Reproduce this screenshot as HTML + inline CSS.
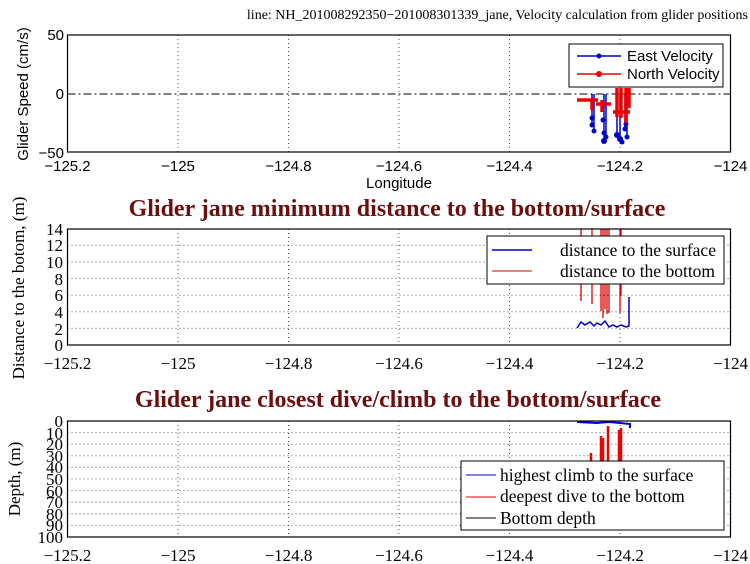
<!DOCTYPE html>
<html><head><style>
body{margin:0;background:#fff;}
svg{display:block;}
.t{font-family:"Liberation Serif",serif;}
.a{font-family:"Liberation Sans",sans-serif;}
</style></head><body>
<svg width="750" height="564" viewBox="0 0 750 564" xmlns="http://www.w3.org/2000/svg">
<!-- Panel 1 -->
<text x="748" y="19" class="t" font-size="14" text-anchor="end">line: NH_201008292350−201008301339_jane, Velocity calculation from glider positions</text>
<g stroke="#555" stroke-dasharray="1,3" stroke-width="1">
<line x1="178" y1="35" x2="178" y2="152"/><line x1="288.5" y1="35" x2="288.5" y2="152"/><line x1="399" y1="35" x2="399" y2="152"/><line x1="509.5" y1="35" x2="509.5" y2="152"/><line x1="620" y1="35" x2="620" y2="152"/>
</g>
<line x1="67.5" y1="94" x2="730.5" y2="94" stroke="#000" stroke-dasharray="8,3,2,3"/>
<g stroke="#00c" stroke-width="1.5" fill="none">
<path d="M592 94V125M594 94V131M604 94V141M606 94V137M617 94V135M620 94V139M625 94V129M627 94V137"/>
</g>
<g fill="#00c">
<circle cx="592" cy="118" r="2.5"/><circle cx="592" cy="125" r="2.5"/><circle cx="594" cy="131" r="2.5"/><circle cx="604" cy="141" r="3"/><circle cx="604" cy="133" r="2.5"/><circle cx="606" cy="137" r="2.5"/><circle cx="617" cy="135" r="3"/><circle cx="620" cy="139" r="3"/><circle cx="625" cy="129" r="2.5"/><circle cx="627" cy="137" r="2.5"/><circle cx="622" cy="142" r="2.5"/><circle cx="626" cy="124" r="2.5"/><circle cx="603" cy="120" r="2.5"/>
</g>
<g stroke="#e00" stroke-width="3.5" fill="none">
<path d="M577 100H598M596 104H611M592 100V110M602 100V112M613 112H630M617 88V117M621 88V118M626 88V123M629 88V108"/>
</g>
<rect x="67.5" y="35" width="663" height="117" fill="none" stroke="#000" stroke-width="1.2"/>
<g class="a" font-size="15" text-anchor="end"><text x="64" y="40">50</text><text x="64" y="99">0</text><text x="64" y="158">−50</text></g>
<g class="a" font-size="15" text-anchor="middle"><text x="67.5" y="171">−125.2</text><text x="178" y="171">−125</text><text x="288.5" y="171">−124.8</text><text x="399" y="171">−124.6</text><text x="509.5" y="171">−124.4</text><text x="620" y="171">−124.2</text><text x="730.5" y="171">−124</text>
<text x="399" y="188">Longitude</text></g>
<text class="a" font-size="15" text-anchor="middle" transform="translate(28,94) rotate(-90)">Glider Speed (cm/s)</text>
<rect x="569" y="44" width="154" height="43" fill="#fff" stroke="#000"/>
<line x1="577" y1="56" x2="621" y2="56" stroke="#00c" stroke-width="1.5"/><circle cx="599" cy="56" r="2.5" fill="#00c"/>
<line x1="577" y1="74" x2="621" y2="74" stroke="#e00" stroke-width="1.5"/><circle cx="599" cy="74" r="3" fill="#e00"/>
<text x="627" y="61" class="a" font-size="15">East Velocity</text><text x="627" y="79" class="a" font-size="15">North Velocity</text>

<!-- Panel 2 -->
<text x="397" y="216" class="t" font-size="24" font-weight="bold" fill="#6b0f0f" text-anchor="middle">Glider jane minimum distance to the bottom/surface</text>
<g stroke="#555" stroke-dasharray="1,3">
<line x1="178" y1="229" x2="178" y2="345"/><line x1="288.5" y1="229" x2="288.5" y2="345"/><line x1="399" y1="229" x2="399" y2="345"/><line x1="509.5" y1="229" x2="509.5" y2="345"/><line x1="620" y1="229" x2="620" y2="345"/>
<line x1="67.5" y1="245.3" x2="730" y2="245.3"/><line x1="67.5" y1="262" x2="730" y2="262"/><line x1="67.5" y1="278.6" x2="730" y2="278.6"/><line x1="67.5" y1="295.2" x2="730" y2="295.2"/><line x1="67.5" y1="311.8" x2="730" y2="311.8"/><line x1="67.5" y1="328.4" x2="730" y2="328.4"/>
</g>
<g stroke="#d00" stroke-width="1.3" fill="none">
<path d="M581 229V301M592 229V304M601 229V311M603 229V318M605 229V309M607 229V314M609 229V313M620 229V313M621 229V296"/>
</g>
<path d="M577 328L581 322L585 325L590 322L594 326L597 323L601 325L605 321L609 327L613 325L617 327L621 325L626 327L629 326L629 297" stroke="#00c" stroke-width="1.5" fill="none"/>
<rect x="67.5" y="229" width="663" height="116" fill="none" stroke="#000" stroke-width="1.2"/>
<g class="t" font-size="17" text-anchor="end"><text x="63" y="235">14</text><text x="63" y="251">12</text><text x="63" y="268">10</text><text x="63" y="285">8</text><text x="63" y="301">6</text><text x="63" y="318">4</text><text x="63" y="335">2</text><text x="63" y="351">0</text></g>
<g class="t" font-size="17" text-anchor="middle"><text x="67.5" y="369">−125.2</text><text x="178" y="369">−125</text><text x="288.5" y="369">−124.8</text><text x="399" y="369">−124.6</text><text x="509.5" y="369">−124.4</text><text x="620" y="369">−124.2</text><text x="730.5" y="369">−124</text></g>
<text class="t" font-size="17" text-anchor="middle" transform="translate(24,288) rotate(-90)">Distance to the botom, (m)</text>
<rect x="487" y="236" width="237" height="48" fill="#fff" stroke="#000"/>
<line x1="492" y1="250" x2="532" y2="250" stroke="#00c" stroke-width="1.5"/><line x1="492" y1="271" x2="532" y2="271" stroke="#d00"/>
<text x="560" y="256" class="t" font-size="17.5">distance to the surface</text><text x="560" y="277" class="t" font-size="17.5">distance to the bottom</text>

<!-- Panel 3 -->
<text x="398" y="407" class="t" font-size="24" font-weight="bold" fill="#6b0f0f" text-anchor="middle">Glider jane closest dive/climb to the bottom/surface</text>
<g stroke="#555" stroke-dasharray="1,3">
<line x1="178" y1="421" x2="178" y2="537"/><line x1="288.5" y1="421" x2="288.5" y2="537"/><line x1="399" y1="421" x2="399" y2="537"/><line x1="509.5" y1="421" x2="509.5" y2="537"/><line x1="620" y1="421" x2="620" y2="537"/>
<line x1="67.5" y1="432.6" x2="730" y2="432.6"/><line x1="67.5" y1="444.2" x2="730" y2="444.2"/><line x1="67.5" y1="455.8" x2="730" y2="455.8"/><line x1="67.5" y1="467.4" x2="730" y2="467.4"/><line x1="67.5" y1="479" x2="730" y2="479"/><line x1="67.5" y1="490.6" x2="730" y2="490.6"/><line x1="67.5" y1="502.2" x2="730" y2="502.2"/><line x1="67.5" y1="513.8" x2="730" y2="513.8"/><line x1="67.5" y1="525.4" x2="730" y2="525.4"/>
</g>
<g stroke="#e00" stroke-width="2.5" fill="none">
<path d="M591 453V462M601 436V462M603 438V462M608 426V462M619 430V462M621 428V462"/>
</g>
<path d="M577 422L597 423L609 422L620 423L630 424L630 428" stroke="#00c" stroke-width="2" fill="none"/>
<rect x="67.5" y="421" width="663" height="116" fill="none" stroke="#000" stroke-width="1.2"/>
<g class="t" font-size="17" text-anchor="end"><text x="63" y="427">0</text><text x="63" y="439">10</text><text x="63" y="450">20</text><text x="63" y="462">30</text><text x="63" y="473">40</text><text x="63" y="485">50</text><text x="63" y="497">60</text><text x="63" y="508">70</text><text x="63" y="520">80</text><text x="63" y="531">90</text><text x="63" y="543">100</text></g>
<g class="t" font-size="17" text-anchor="middle"><text x="67.5" y="561">−125.2</text><text x="178" y="561">−125</text><text x="288.5" y="561">−124.8</text><text x="399" y="561">−124.6</text><text x="509.5" y="561">−124.4</text><text x="620" y="561">−124.2</text><text x="730.5" y="561">−124</text></g>
<text class="t" font-size="17" text-anchor="middle" transform="translate(20,479) rotate(-90)">Depth, (m)</text>
<rect x="461" y="461" width="263" height="69" fill="#fff" stroke="#000"/>
<line x1="466" y1="475" x2="496" y2="475" stroke="#00c"/><line x1="466" y1="497" x2="496" y2="497" stroke="#d00"/><line x1="466" y1="518" x2="496" y2="518" stroke="#000"/>
<text x="500" y="481" class="t" font-size="17.5">highest climb to the surface</text><text x="500" y="502" class="t" font-size="17.5">deepest dive to the bottom</text><text x="500" y="524" class="t" font-size="17.5">Bottom depth</text>
</svg>
</body></html>
